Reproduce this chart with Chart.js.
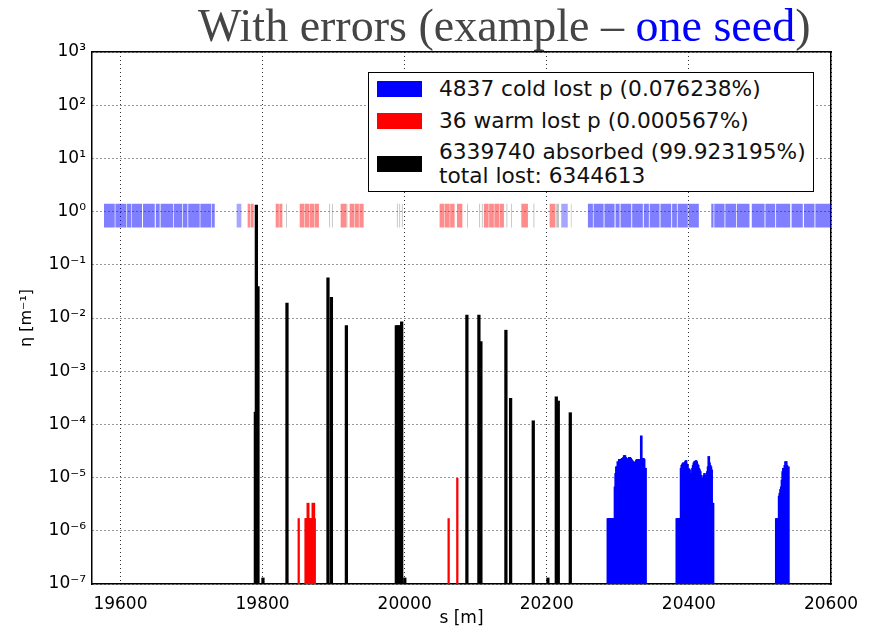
<!DOCTYPE html>
<html>
<head>
<meta charset="utf-8">
<title>With errors (example – one seed)</title>
<script src="https://cdn.jsdelivr.net/npm/chart.js@4.4.1/dist/chart.umd.min.js"></script>
<style>
    html, body { margin: 0; padding: 0; background: #fff; }
    #wrap { position: relative; width: 875px; height: 629px; overflow: hidden; }
    #title {
        position: absolute; left: 198px; top: 3px; white-space: nowrap;
        font-family: "Liberation Serif", serif; font-size: 46px; line-height: 46px; color: #454545;
    }
    #title .seed { color: #0000ff; }
    #legend {
        position: absolute; left: 368px; top: 72px; width: 444px; height: 118px;
        border: 1.5px solid #000; background: #fff;
        font-family: "DejaVu Sans", sans-serif; font-size: 21.7px; color: #111;
    }
    #legend .swatch { position: absolute; left: 8px; width: 45px; height: 16px; }
    #legend .text { position: absolute; left: 70px; line-height: 24px; white-space: nowrap; }
</style>
</head>
<body>
<div id="wrap">
    <canvas id="lossChart" width="875" height="629"></canvas>
    <div id="title">With errors (example – <span class="seed">one seed</span>)</div>
    <div id="legend"></div>
</div>
<script>
// axis ticks
const sTicks = [19600, 19800, 20000, 20200, 20400, 20600];
const etaTicks = [1e-7, 1e-6, 1e-5, 1e-4, 1e-3, 1e-2, 1e-1, 1e0, 1e1, 1e2, 1e3];

// lattice elements [start, end] in m
const coldElements = [
    [19576.9, 19592.0], [19592.9, 19608.4], [19609.3, 19615.5], [19616.3, 19630.4],
    [19631.8, 19648.3], [19649.8, 19655.3], [19656.5, 19674.0], [19675.0, 19686.7],
    [19687.7, 19694.3], [19695.4, 19711.6], [19712.5, 19728.0], [19728.9, 19732.7],
    [20257.9, 20264.9], [20265.9, 20280.0], [20281.2, 20295.4], [20296.8, 20302.5],
    [20303.8, 20319.0], [20320.2, 20335.2], [20336.5, 20343.7], [20344.8, 20358.7],
    [20360.0, 20375.2], [20376.4, 20383.1], [20384.2, 20398.5], [20399.6, 20414.0],
    [20431.5, 20434.7], [20435.7, 20450.2], [20451.3, 20466.6], [20467.7, 20485.3],
    [20488.5, 20506.5], [20507.7, 20521.5], [20522.7, 20542.6], [20544.5, 20560.3],
    [20561.9, 20576.8], [20578.0, 20600.0]
];
const coldOtherElements = [[19763.2, 19770.2], [20220.4, 20229.7]];
const warmElements = [
    [19778.7, 19782.8], [19783.5, 19787.5],
    [19818.5, 19823.0], [19823.6, 19827.9],
    [19852.3, 19858.5], [19859.2, 19865.5], [19866.2, 19872.5], [19873.2, 19879.4],
    [19909.9, 19918.0],
    [19922.6, 19929.0], [19929.7, 19935.6], [19936.3, 19942.3],
    [20049.2, 20056.0], [20056.7, 20063.4], [20064.0, 20070.3],
    [20073.6, 20081.2],
    [20111.5, 20118.2], [20118.9, 20125.5], [20126.2, 20132.8], [20133.5, 20139.7],
    [20164.2, 20173.5],
    [20204.0, 20212.5]
];
const collimatorElements = [
    [19833.0, 19834.2], [19893.8, 19895.0], [19897.7, 19898.9], [19918.2, 19919.4],
    [19989.1, 19990.3], [19992.4, 19993.6], [19996.1, 19997.3], [20087.7, 20088.9],
    [20104.9, 20106.1], [20108.7, 20109.9], [20143.3, 20144.5], [20149.9, 20151.1],
    [20181.3, 20182.5], [20213.4, 20217.1], [20233.9, 20235.1]
];
const elementBottom = 0.5;
const elementTop = 1.4;

// absorbed (collimators)
const absorbedS = [19789.9, 19791.3, 19793.6, 19800.6, 19834.4, 19892.1, 19896.9, 19918.0,
    19988.3, 19990.6, 19993.0, 19995.8, 20000.2, 20087.6, 20104.5, 20107.3, 20142.5,
    20149.1, 20181.0, 20201.6, 20213.4, 20216.2, 20233.1];
const absorbedEta = [1.7e-4, 1.33, 0.039, 1.3e-7, 0.019, 0.057, 0.0245, 0.0072,
    0.0072, 0.0072, 0.0072, 0.0085, 1.3e-7, 0.0114, 0.0114, 0.0036, 0.0059,
    3.1e-4, 1.17e-4, 1.3e-7, 3.3e-4, 2.75e-4, 1.66e-4];

// warm losses
const warmS = [19850.9, 19860.5, 19861.5, 19862.5, 19863.5, 19864.5, 19865.5, 19866.5,
    19867.5, 19868.5, 19869.5, 19870.5, 19871.5, 19872.5, 19873.5, 20061.9, 20074.1];
const warmEta = [1.7e-6, 1.7e-6, 1.7e-6, 1.7e-6, 3.3e-6, 3.3e-6, 1.7e-6, 1.7e-6,
    1.7e-6, 1.7e-6, 1.7e-6, 3.3e-6, 3.3e-6, 3.3e-6, 1.7e-6, 1.7e-6, 9.7e-6];

// cold losses, 1 m bins starting at each group start
const coldGroupStart = [20286, 20383, 20523];
const coldGroupEta = [
    [1.7e-6, 1.7e-6, 1.7e-6, 1.7e-6, 1.7e-6, 1.7e-6, 1.7e-6, 1.7e-6, 1.7e-6, 1.7e-6,
     6.7e-6, 1.2e-5, 1.6e-5, 1.6e-5, 2.0e-5, 1.9e-5, 2.2e-5, 2.1e-5, 2.2e-5, 2.1e-5,
     2.3e-5, 2.3e-5, 2.4e-5, 2.6e-5, 2.6e-5, 2.4e-5, 2.3e-5, 2.2e-5, 2.1e-5, 2.3e-5,
     2.4e-5, 2.4e-5, 2.3e-5, 2.2e-5, 2.1e-5, 2.0e-5, 2.0e-5, 1.9e-5, 1.9e-5, 1.9e-5,
     2.1e-5, 2.2e-5, 2.2e-5, 2.1e-5, 2.2e-5, 2.0e-5, 2.1e-5, 6.1e-5, 2.2e-5, 2.3e-5,
     2.3e-5, 2.2e-5, 1.5e-5, 1.5e-5],
    [1.7e-6, 1.7e-6, 1.7e-6, 1.7e-6, 1.7e-6, 1.7e-6, 1.5e-5, 1.7e-5, 1.8e-5, 1.9e-5,
     1.8e-5, 1.9e-5, 2.0e-5, 2.1e-5, 1.8e-5, 1.7e-5, 1.5e-5, 1.45e-5, 1.4e-5, 1.2e-5,
     1.1e-5, 1.2e-5, 1.5e-5, 1.7e-5, 1.9e-5, 2.0e-5, 2.0e-5, 2.1e-5, 2.0e-5, 1.8e-5,
     1.7e-5, 1.5e-5, 1.4e-5, 1.3e-5, 1.1e-5, 1.0e-5, 9.5e-6, 9.5e-6, 1.1e-5, 1.2e-5,
     1.1e-5, 1.0e-5, 1.1e-5, 1.3e-5, 1.6e-5, 2.5e-5, 1.9e-5, 1.7e-5, 1.6e-5, 1.4e-5,
     3.3e-6, 3.3e-6],
    [1.7e-6, 1.7e-6, 1.7e-6, 1.7e-6, 4.5e-6, 5.1e-6, 6.0e-6, 6.7e-6, 9.0e-6, 1.3e-5,
     1.5e-5, 1.4e-5, 1.7e-5, 2.0e-5, 2.0e-5, 1.7e-5, 1.5e-5, 1.6e-5]
];

const legendLabels = [
    "4837 cold lost p (0.076238%)",
    "36 warm lost p (0.000567%)",
    ["6339740 absorbed (99.923195%)", "total lost: 6344613"]
];

const etaMin = 1e-7;

function lossBars(sList, etaList) {
    return sList.map((s, i) => ({ x: s, y: [etaMin, etaList[i]] }));
}

function elementSteps(list) {
    const pts = [];
    list.forEach(([a, b]) => {
        pts.push({ x: a, y: elementTop });
        pts.push({ x: b, y: elementBottom });
    });
    return pts;
}

const coldBars = [];
coldGroupStart.forEach((start, g) => {
    coldGroupEta[g].forEach((v, i) => coldBars.push({ x: start + i, y: [etaMin, v] }));
});

const supMap = { "-": "⁻", "0": "⁰", "1": "¹", "2": "²", "3": "³", "4": "⁴", "5": "⁵", "6": "⁶", "7": "⁷", "8": "⁸", "9": "⁹" };

function latticeSet(list, color) {
    return {
        type: "line",
        data: elementSteps(list),
        stepped: true,
        fill: { value: elementBottom },
        backgroundColor: color,
        borderColor: "transparent",
        borderWidth: 0,
        pointRadius: 0,
        order: 2
    };
}

Chart.defaults.font.family = "DejaVu Sans";
Chart.defaults.color = "#000";

const ctx = document.getElementById("lossChart").getContext("2d");

const chart = new Chart(ctx, {
    type: "bar",
    data: {
        datasets: [
            {
                label: legendLabels[0],
                data: coldBars,
                backgroundColor: "#0000ff",
                barThickness: 2,
                grouped: false,
                order: 0
            },
            {
                label: legendLabels[1],
                data: lossBars(warmS, warmEta),
                backgroundColor: "#ff0000",
                barThickness: 1.6,
                grouped: false,
                order: 0
            },
            {
                label: legendLabels[2],
                data: lossBars(absorbedS, absorbedEta),
                backgroundColor: "#000000",
                barThickness: 2.6,
                grouped: false,
                order: 0
            },
            latticeSet(coldElements, "rgba(0, 0, 255, 0.5)"),
            latticeSet(coldOtherElements, "rgba(0, 0, 255, 0.35)"),
            latticeSet(warmElements, "rgba(255, 0, 0, 0.45)"),
            latticeSet(collimatorElements, "rgba(128, 128, 128, 0.5)")
        ]
    },
    options: {
        responsive: false,
        animation: false,
        events: [],
        layout: { padding: 0 },
        plugins: {
            legend: { display: false },
            tooltip: { enabled: false },
            title: { display: false }
        },
        scales: {
            x: {
                type: "linear",
                position: "bottom",
                min: 19560,
                max: 20600,
                offset: false,
                afterBuildTicks: (scale) => { scale.ticks = sTicks.map(v => ({ value: v })); },
                afterFit: (scale) => { scale.height = 45; },
                ticks: { font: { size: 17 }, padding: 10, maxRotation: 0, callback: (v) => String(v) },
                grid: { offset: false, drawTicks: false, color: "rgba(0, 0, 0, 0.8)" },
                border: { color: "#000", width: 1.5, dash: [1, 3] },
                title: { display: true, text: "s [m]", font: { size: 17 }, padding: { bottom: 0 } }
            },
            y: {
                type: "logarithmic",
                position: "left",
                min: etaMin,
                max: 1e3,
                afterBuildTicks: (scale) => { scale.ticks = etaTicks.map(v => ({ value: v })); },
                afterFit: (scale) => { scale.width = 92; },
                ticks: {
                    font: { size: 17 },
                    padding: 6,
                    autoSkip: false,
                    callback: (v) => "10" + String(Math.round(Math.log10(v))).split("").map(c => supMap[c]).join("")
                },
                grid: { drawTicks: false, color: "rgba(0, 0, 0, 0.8)" },
                border: { color: "#000", width: 1.5, dash: [1, 3] },
                title: { display: true, text: "η [m⁻¹]", font: { size: 16 }, padding: { top: 17 } }
            },
            x2: {
                type: "linear",
                position: "top",
                min: 19560,
                max: 20600,
                afterFit: (scale) => { scale.height = 52; },
                ticks: { display: false },
                grid: { display: false, drawTicks: false },
                border: { display: true, color: "#000", width: 1.5 }
            },
            y2: {
                type: "linear",
                position: "right",
                afterFit: (scale) => { scale.width = 44; },
                ticks: { display: false },
                grid: { display: false, drawTicks: false },
                border: { display: true, color: "#000", width: 1.5 }
            }
        }
    }
});

// legend box built from the chart's own datasets
const legendBox = document.getElementById("legend");
const rowCenters = [16, 47.5, 91];
chart.data.datasets.filter(d => d.label).forEach((d, i) => {
    const lines = Array.isArray(d.label) ? d.label : [d.label];
    const sw = document.createElement("div");
    sw.className = "swatch";
    sw.style.background = d.backgroundColor;
    sw.style.top = (rowCenters[i] - 8) + "px";
    legendBox.appendChild(sw);
    const tx = document.createElement("div");
    tx.className = "text";
    tx.innerHTML = lines.join("<br>");
    tx.style.top = (rowCenters[i] - lines.length * 12) + "px";
    legendBox.appendChild(tx);
});
</script>
</body>
</html>
